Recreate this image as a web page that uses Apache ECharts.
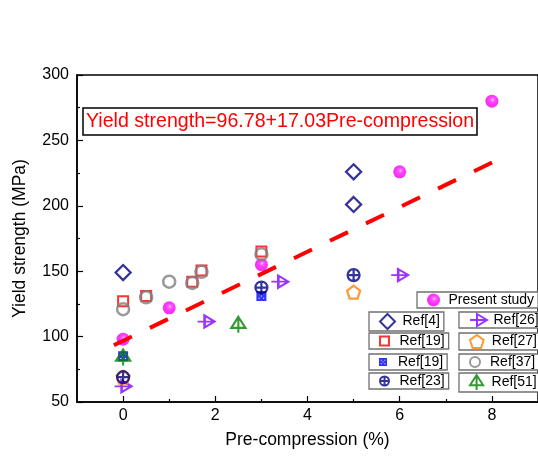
<!DOCTYPE html>
<html>
<head>
<meta charset="utf-8">
<script src="https://cdn.jsdelivr.net/npm/echarts@6/dist/echarts.min.js"></script>
<style>html,body{margin:0;padding:0;background:#fff;}#c{width:538px;height:456px;}</style>
</head>
<body>
<div id="c"></div>
<script>
// ---- data ----
const xTickValues = [0, 2, 4, 6, 8];
const xMinorValues = [1, 3, 5, 7];
const presentX = [0, 1, 3, 6, 8];
const presentY = [98, 122, 155, 226, 280];
const ref4X = [0, 5, 5];
const ref4Y = [149, 226, 201];
const ref19aX = [0, 0.5, 1.5, 1.7, 3];
const ref19aY = [127, 131, 142, 150.5, 165];
const ref37X = [0, 0.5, 1, 1.5, 1.7, 3];
const ref37Y = [121, 130, 142, 141, 149.5, 163];
const ref19bX = [0, 3];
const ref19bY = [85, 131];
const ref51X = [0, 2.5];
const ref51Y = [84, 109];
const ref26X = [0, 1.8, 3.4, 6];
const ref26Y = [62, 111.5, 142, 147];
const ref27X = [0, 5];
const ref27Y = [69, 134];
const ref23X = [0, 3, 5];
const ref23Y = [69, 137.5, 147];
const trendX = [-0.2, 8.05];
const trendY = [93.4, 233.9];
const equationText = 'Yield strength=96.78+17.03Pre-compression';

const zip = (xs, ys) => xs.map((x, i) => [x, ys[i]]);
const FONT = 'Liberation Sans, Arial, sans-serif';

const P = {
  diamond: 'path://M5,0 L10,5 L5,10 L0,5 Z',
  square: 'path://M0,0 L10,0 L10,10 L0,10 Z',
  xbox: 'path://M0,0 L10,0 L10,10 L0,10 Z M2.2,2.2 L2.2,3.3 L3.3,3.3 L3.3,2.2 Z M6.7,2.2 L6.7,3.3 L7.8,3.3 L7.8,2.2 Z M4.45,4.45 L4.45,5.55 L5.55,5.55 L5.55,4.45 Z M2.2,6.7 L2.2,7.8 L3.3,7.8 L3.3,6.7 Z M6.7,6.7 L6.7,7.8 L7.8,7.8 L7.8,6.7 Z',
  cplus: 'path://M0,5 A5,5 0 1 1 10,5 A5,5 0 1 1 0,5 Z M5,0 L5,10 M0,5 L10,5',
  tri: 'path://M0,6 L17,6 M7,0 L17,6 L7,12 Z',
  pent: 'path://M5,0 L10,3.63 L8.09,9.51 L1.91,9.51 L0,3.63 Z',
  arrow: 'path://M7,0 L14,11 L0,11 Z M7,0 L7,16'
};

const sphere = {
  type: 'radial', x: 0.55, y: 0.4, r: 0.6,
  colorStops: [{offset: 0, color: '#ffd6ff'}, {offset: 0.22, color: '#ff33ff'}, {offset: 0.55, color: '#ff00ff'}, {offset: 1, color: '#e600e6'}]
};

const hollow = (c, w) => ({color: 'transparent', borderColor: c, borderWidth: w});

const series = [
  {name: 'Present study', type: 'scatter', symbol: 'circle', symbolSize: 13, itemStyle: {color: sphere}, data: zip(presentX, presentY)},
  {name: 'Ref[4]', type: 'scatter', symbol: P.diamond, symbolSize: [15, 15], itemStyle: hollow('#000080', 2.3), data: zip(ref4X, ref4Y)},
  {name: 'Ref[19]', type: 'scatter', symbol: P.square, symbolSize: [10, 10], itemStyle: hollow('#ff0000', 2), data: zip(ref19aX, ref19aY)},
  {name: 'Ref[37]', type: 'scatter', symbol: 'circle', symbolSize: 12, itemStyle: hollow('#808080', 2.5), data: zip(ref37X, ref37Y)},
  {name: 'Ref[19] ', type: 'scatter', symbol: P.xbox, symbolSize: [10, 10], itemStyle: {color: '#0000ff', borderWidth: 0}, data: zip(ref19bX, ref19bY)},
  {name: 'Ref[51]', type: 'scatter', symbol: P.arrow, symbolSize: [14, 16], itemStyle: hollow('#008000', 2.2), data: zip(ref51X, ref51Y)},
  {name: 'Ref[26]', type: 'scatter', symbol: P.tri, symbolSize: [17, 12], itemStyle: hollow('#8000ff', 2.2), data: zip(ref26X, ref26Y)},
  {name: 'Ref[27]', type: 'scatter', symbol: P.pent, symbolSize: [13, 13], itemStyle: hollow('#ff8000', 2.2), data: zip(ref27X, ref27Y)},
  {name: 'Ref[23]', type: 'scatter', symbol: P.cplus, symbolSize: [12, 12], itemStyle: hollow('#000080', 2.2), data: zip(ref23X, ref23Y)},
  {name: 'trend', type: 'line', showSymbol: false, symbol: 'none', silent: true,
   lineStyle: {color: '#ff0000', width: 4, type: [20, 20]}, data: zip(trendX, trendY), z: 5}
];

// legend boxes: [name, left, top, iconHeight]
const legendBoxes = [
  ['Present study', 417, 292, 13],
  ['Ref[4]', 369, 312, 15],
  ['Ref[19]', 369, 333, 9],
  ['Ref[19] ', 369, 354, 8],
  ['Ref[23]', 369, 373, 9],
  ['Ref[26]', 459, 312, 12],
  ['Ref[27]', 459, 333, 13],
  ['Ref[37]', 459, 354, 10],
  ['Ref[51]', 459, 373, 15]
];
const legends = legendBoxes.map(([n, l, t, ih]) => ({
  data: [n], left: l, top: t, itemWidth: 20, itemHeight: ih, itemGap: 0,
  padding: [1, 4, 1, 10], borderColor: '#707070', borderWidth: 1.3, borderRadius: 0,
  backgroundColor: '#fff', selectedMode: false,
  formatter: s => s.trim(),
  textStyle: {fontSize: 14, color: '#000', fontFamily: FONT}
}));

const chart = echarts.init(document.getElementById('c'), null, {renderer: 'canvas'});
chart.setOption({
  animation: false,
  backgroundColor: '#fff',
  title: {
    text: equationText, left: 83, top: 108, padding: [4, 3, 3, 3],
    borderColor: '#000', borderWidth: 1.5,
    textStyle: {color: '#ff0000', fontSize: 19.6, fontWeight: 'normal', fontFamily: FONT}
  },
  legend: legends,
  grid: [
    {left: 77, top: 75, width: 466, height: 327, show: true, borderColor: '#000', borderWidth: 1.5, containLabel: false},
    {left: 77, top: 75, width: 466, height: 327, show: false, containLabel: false}
  ],
  xAxis: [
    {
      type: 'value', gridIndex: 0, min: -1, max: 9, position: 'bottom',
      name: 'Pre-compression (%)', nameLocation: 'middle', nameGap: 29,
      nameTextStyle: {fontSize: 17.5, color: '#000', fontFamily: FONT},
      axisLine: {onZero: false, lineStyle: {color: '#000', width: 1.5}},
      axisTick: {inside: true, length: 6, lineStyle: {color: '#000', width: 1.2}, customValues: xTickValues},
      axisLabel: {customValues: xTickValues, fontSize: 16, color: '#000', margin: 6, fontFamily: FONT},
      splitLine: {show: false}
    },
    {
      type: 'value', gridIndex: 1, min: -1, max: 9, position: 'bottom',
      axisLine: {show: false},
      axisTick: {inside: true, length: 3, lineStyle: {color: '#000', width: 1.2}, customValues: xMinorValues},
      axisLabel: {show: false}, splitLine: {show: false}
    }
  ],
  yAxis: [
    {
      type: 'value', gridIndex: 0, min: 50, max: 300, interval: 50,
      name: 'Yield strength (MPa)', nameLocation: 'middle', nameGap: 48,
      nameTextStyle: {fontSize: 17.5, color: '#000', fontFamily: FONT},
      axisLine: {show: true, onZero: false, lineStyle: {color: '#000', width: 1.5}},
      axisTick: {show: true, inside: true, length: 6, lineStyle: {color: '#000', width: 1.2}},
      minorTick: {show: true, splitNumber: 2, length: 3, lineStyle: {color: '#000', width: 1.2}},
      axisLabel: {fontSize: 16, color: '#000', margin: 8, fontFamily: FONT},
      splitLine: {show: false}
    },
    {type: 'value', gridIndex: 1, min: 50, max: 300, show: false}
  ],
  series: series
});
</script>
</body>
</html>
